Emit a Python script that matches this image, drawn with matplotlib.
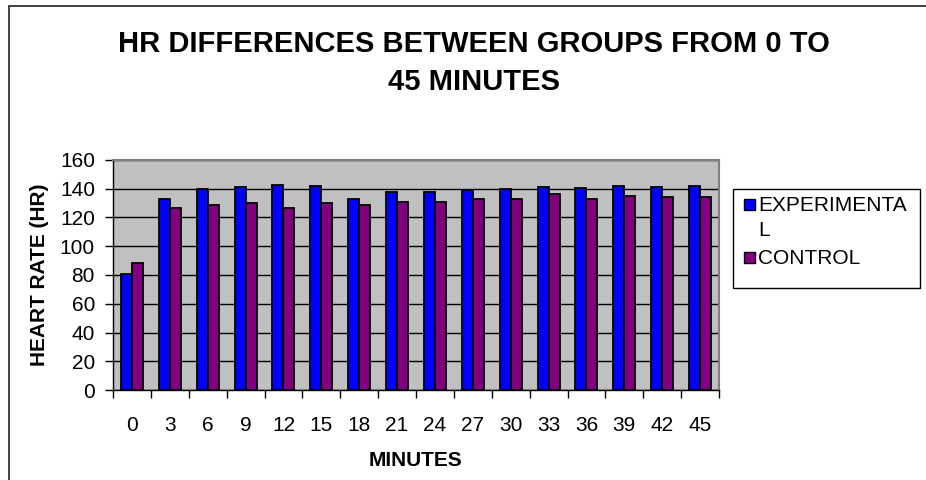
import textwrap

import matplotlib
matplotlib.use("Agg")
import matplotlib.pyplot as plt
from matplotlib.patches import Rectangle
import numpy as np

plt.rcParams['font.family'] = ['Liberation Sans', 'DejaVu Sans']

# heart rate readings every 3 minutes
minutes = [0, 3, 6, 9, 12, 15, 18, 21, 24, 27, 30, 33, 36, 39, 42, 45]
experimental = [81, 133, 139.5, 141.5, 142.5, 142, 133, 137.5, 138, 139, 139.5, 141.5, 140.5, 142, 141, 142]
control = [88.5, 126.5, 129, 130, 126.5, 130, 129, 130.5, 130.5, 133, 133, 136.5, 133, 135, 134.5, 134.5]
series_names = ["EXPERIMENTAL", "CONTROL"]
series_colors = ["#0000FF", "#800080"]

W, H = 926, 480
fig = plt.figure(figsize=(W / 100, H / 100), dpi=100)
fig.patch.set_facecolor("white")

# plot area in pixel terms
left, top, right, bottom = 113, 160, 719, 390
ax = fig.add_axes([left / W, 1 - bottom / H, (right - left) / W, (bottom - top) / H])
ax.set_facecolor("#C0C0C0")

x = np.arange(len(minutes))
w = 0.29
for i, (vals, col) in enumerate(zip([experimental, control], series_colors)):
    ax.bar(x + (i - 0.5) * w, vals, w, color=col, edgecolor="black", linewidth=1.3, zorder=3)

ax.set_xlim(-0.5, len(minutes) - 0.5)
ax.set_ylim(0, 160)
ax.set_yticks(range(0, 161, 20))
ax.yaxis.grid(True, color="black", linewidth=1)
ax.set_axisbelow(True)

ax.set_xticks(x)
ax.set_xticklabels([str(m) for m in minutes])
ax.set_xticks(np.arange(-0.5, len(minutes), 1), minor=True)
ax.tick_params(axis="x", which="major", length=0, pad=19, labelsize=15)
ax.tick_params(axis="x", which="minor", length=6, width=1, direction="out")
ax.tick_params(axis="y", length=6, width=1, direction="out", pad=7, labelsize=15)

for s in ["left", "bottom"]:
    ax.spines[s].set_color("black")
    ax.spines[s].set_linewidth(1)
for s in ["top", "right"]:
    ax.spines[s].set_color("#808080")
    ax.spines[s].set_linewidth(1.5)

# titles and axis names
fig.text(474 / W, 1 - 90 / H, "HR DIFFERENCES BETWEEN GROUPS FROM 0 TO\n45 MINUTES",
         ha="center", va="baseline", fontsize=21, fontweight="bold", linespacing=1.45)
fig.text(40 / W, 1 - 275 / H, "HEART RATE (HR)", rotation=90, ha="center", va="center",
         fontsize=15, fontweight="bold")
fig.text((left + right) / 2 / W, 1 - 461 / H, "MINUTES", ha="center", va="center",
         fontsize=15, fontweight="bold")

# chart border (runs off the right and bottom)
fig.add_artist(Rectangle((9 / W, -0.1), 1.0, 1.1 - 6 / H, transform=fig.transFigure,
                         fill=False, edgecolor="#333333", linewidth=1.3))

# legend box
fig.add_artist(Rectangle((733 / W, 1 - 288 / H), (920 - 733) / W, (288 - 189) / H,
                         transform=fig.transFigure, fill=False, edgecolor="black", linewidth=1))
y = 211
for name, col in zip(series_names, series_colors):
    fig.add_artist(Rectangle((744 / W, 1 - (y - 1) / H), 11 / W, 11 / H, transform=fig.transFigure,
                             facecolor=col, edgecolor="black", linewidth=1))
    for line in textwrap.wrap(name, 11):
        fig.text(758 / W, 1 - y / H, line, ha="left", va="baseline", fontsize=15)
        y += 24.5
    y += 3.5

fig.savefig("out.png", dpi=100)
